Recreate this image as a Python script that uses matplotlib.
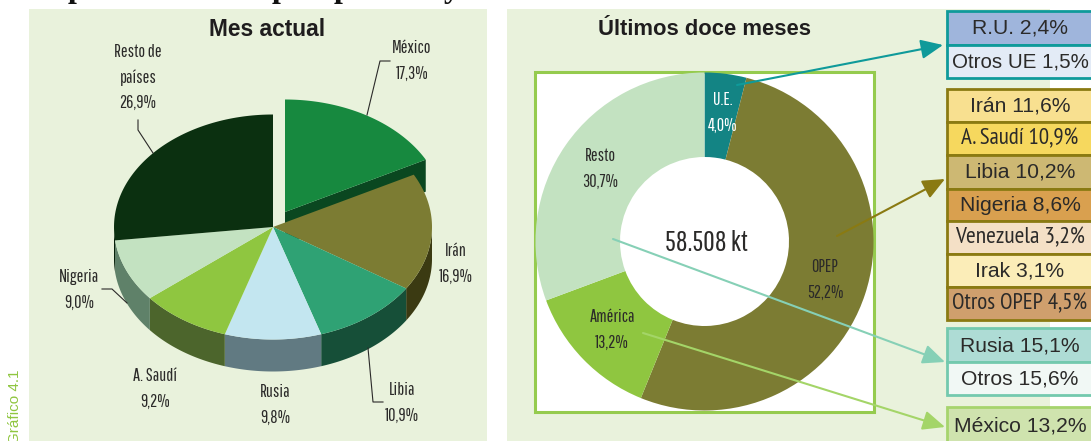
import numpy as np
import matplotlib
matplotlib.use("Agg")
import matplotlib.pyplot as plt
from matplotlib.patches import Polygon, Rectangle
import logging
logging.getLogger("matplotlib.font_manager").setLevel(logging.ERROR)

W, H = 1091, 441

# ---- data ----
pie_names = ["México", "Irán", "Libia", "Rusia", "A. Saudí", "Nigeria", "Resto de\npaíses"]
pie_values = [17.3, 16.9, 10.9, 9.8, 9.2, 9.0, 26.9]
ring_names = ["U.E.", "OPEP", "América", "Resto"]
ring_values = [4.0, 52.2, 13.2, 30.7]
ring_total = "58.508 kt"
ue_names = ["R.U.", "Otros UE"]
ue_values = [2.4, 1.5]
opep_names = ["Irán", "A. Saudí", "Libia", "Nigeria", "Venezuela", "Irak", "Otros OPEP"]
opep_values = [11.6, 10.9, 10.2, 8.6, 3.2, 3.1, 4.5]
rest_names = ["Rusia", "Otros"]
rest_values = [15.1, 15.6]
america_names = ["México"]
america_values = [13.2]

# ---- styles ----
PANEL = "#e9f2dc"
INK = "#2b2a29"
NARROW = ["Pathway Gothic One", "Liberation Sans", "DejaVu Sans"]
SANS = ["Liberation Sans", "DejaVu Sans"]
BOX = ["Liberation Sans", "DejaVu Sans"]
BOXN = ["PT Sans Narrow", "Liberation Sans", "DejaVu Sans"]
pie_tops = ["#17893f", "#7c7c33", "#2fa274", "#c3e6f0", "#8fc640", "#c3e2c1", "#0b3010"]
pie_sides = ["#0a4720", "#3b3a12", "#164f38", "#617a82", "#4c652c", "#5f8169", "#06200a"]
ring_colors = ["#138484", "#7c7c33", "#8fc640", "#c3e2c1"]
ring_text = ["white", INK, INK, INK]


def pct(v):
    return f"{v:.1f}".replace(".", ",") + "%"


fig = plt.figure(figsize=(W / 100, H / 100), dpi=100, facecolor="white")
ax = fig.add_axes([0, 0, 1, 1], zorder=0)
ax.set_xlim(0, W)
ax.set_ylim(H, 0)
ax.axis("off")

# panels
ax.add_patch(Rectangle((29, 9), 458, 432, fc=PANEL, ec="none"))
ax.add_patch(Rectangle((507, 9), 543, 432, fc=PANEL, ec="none"))
ax.add_patch(Rectangle((535, 72), 339, 340, fc="white", ec="#95cb4e", lw=2.2))

# fragment of the cropped heading above the panels
for x, s in zip([77, 280, 343, 452], ["p", "p", "p", "y"]):
    ax.text(x, -3, s, family=["Liberation Serif", "DejaVu Serif"], weight="bold",
            fontsize=23, color="#111111", ha="center", va="baseline", clip_on=False)

ax.text(267.5, 29.5, "Mes actual", family=SANS, weight="bold", fontsize=16.4, color="#1f1d1e",
        ha="center", va="center")
ax.text(705, 29.5, "Últimos doce meses", family=SANS, weight="bold", fontsize=15.8, color="#1f1d1e",
        ha="center", va="center")
ax.text(15, 444, "Gráfico 4.1", family=SANS, fontsize=11, color="#8fc640", rotation=90,
        ha="center", va="bottom")

# ---- 3D pie ----
cx, cy, rx, ry, depth = 273, 227, 159, 112.5, 32
shift = [(12, -15), (0, 0), (0, 0), (0, 0), (0, 0), (0, 0), (0, 0)]
fractions = np.array(pie_values) / sum(pie_values) * 360
ends = 90 - np.cumsum(fractions)
starts = ends + fractions


def rim(t0, t1, dx=0, dy=0, n=80):
    t = np.radians(np.linspace(t0, t1, n))
    return np.column_stack([cx + dx + rx * np.cos(t), cy + dy - ry * np.sin(t)])


for i, (a, b) in enumerate(zip(starts, ends)):
    dx, dy = shift[i]
    if i == 0:  # radial cut wall of the pulled-out slice
        p = rim(b, b, dx, dy, 1)[0]
        cut = [(cx + dx, cy + dy), tuple(p), (p[0], p[1] + depth), (cx + dx, cy + dy + depth)]
        ax.add_patch(Polygon(cut, fc=pie_sides[i], ec="none", zorder=2))
    lo, hi = max(b, -180), min(a, 0)
    if lo < hi:
        top = rim(hi, lo, dx, dy)
        low = top[::-1] + [0, depth]
        ax.add_patch(Polygon(np.vstack([top, low]), fc=pie_sides[i], ec="none", zorder=2))
for i, (a, b) in enumerate(zip(starts, ends)):
    dx, dy = shift[i]
    pts = np.vstack([[(cx + dx, cy + dy)], rim(a, b, dx, dy)])
    ax.add_patch(Polygon(pts, fc=pie_tops[i], ec="none", zorder=3))

pie_label_xy = [(412, 48), (456, 251), (402, 390), (275, 392), (155, 376), (79, 277), (138, 52)]
for name, v, (x, y) in zip(pie_names, pie_values, pie_label_xy):
    lines = name.split("\n") + [pct(v)]
    for k, s in enumerate(lines):
        ax.text(x, y + 25.5 * k, s, family=NARROW, fontsize=13, color=INK, ha="center", va="center", zorder=6)

leaders = [
    ([367, 380, 390], [115, 61, 61]),
    ([153, 138, 138], [153, 130, 120]),
    ([127, 112, 102], [303, 289, 289]),
    ([368, 373, 383], [348, 402, 402]),
]
for xs, ys in leaders:
    ax.plot(xs, ys, color="#2b2a29", lw=0.8, zorder=5)

# ---- ring ----
ring_cx, ring_cy, ring_r = 704.5, 241.5, 169
ax_ring = fig.add_axes([(ring_cx - ring_r) / W, 1 - (ring_cy + ring_r) / H, 2 * ring_r / W, 2 * ring_r / H], zorder=1)
ax_ring.pie(ring_values, colors=ring_colors, startangle=90, counterclock=False, radius=1,
            wedgeprops=dict(width=1 - 84.5 / 169, edgecolor="none"))
ax_ring.set_xlim(-1, 1)
ax_ring.set_ylim(-1, 1)
ax_ring.patch.set_alpha(0)

# ---- overlay ----
top = fig.add_axes([0, 0, 1, 1], zorder=2)
top.set_xlim(0, W)
top.set_ylim(H, 0)
top.axis("off")

ring_label_xy = [(723, 100), (825, 267), (612, 317), (600, 156)]
for name, v, (x, y), c in zip(ring_names, ring_values, ring_label_xy, ring_text):
    top.text(x, y, name, family=NARROW, fontsize=13, color=c, ha="center", va="center")
    top.text(x, y + 25.5, pct(v), family=NARROW, fontsize=13, color=c, ha="center", va="center")
top.text(706, 243, ring_total, family=NARROW, fontsize=20.5, color=INK, ha="center", va="center")

arrows = [
    ((737, 85), (943, 45), "#0f9a9a"),
    ((837, 236), (945, 179), "#8a7a12"),
    ((613, 239), (945, 362), "#86d0b6"),
    ((643, 333), (945, 427), "#a4d568"),
]
for p0, p1, c in arrows:
    top.annotate("", xy=p1, xytext=p0,
                 arrowprops=dict(arrowstyle="-|>,head_length=0.75,head_width=0.33", color=c, lw=1.5,
                                 mutation_scale=18, shrinkA=0, shrinkB=0))

box_x, box_w = 946.5, 150
groups = [
    (ue_names, ue_values, [10.5, 45, 78], ["#9fb5dc", "#e3ebf6"], "#0f9a9a", [BOX, BOX], [15.2, 14.8]),
    (opep_names, opep_values, [89, 122, 155, 188.5, 221, 254, 287, 320],
     ["#f8e090", "#f6d85e", "#cdb873", "#d9a04f", "#f4e0c6", "#fbedb8", "#cf9f6d"], "#8a7a12",
     [BOX, BOXN, BOX, BOX, BOXN, BOX, BOXN], [15.2, 16.5, 15.2, 15.2, 17, 15.2, 16.5]),
    (rest_names, rest_values, [328, 362, 395], ["#aedcd5", "#f1f8f5"], "#73c9ae", [BOX, BOX], [15.2, 15.2]),
    (america_names, america_values, [407, 445], ["#cfe3ae"], "#a6d46e", [BOX], [15.2]),
]
for names, vals, ys, fills, edge, fams, sizes in groups:
    for i, (n, v) in enumerate(zip(names, vals)):
        y0, y1 = ys[i], ys[i + 1]
        top.add_patch(Rectangle((box_x, y0), box_w, y1 - y0, fc=fills[i], ec=edge, lw=2))
    for i, (n, v) in enumerate(zip(names, vals)):
        y0, y1 = ys[i], ys[i + 1]
        top.text(1020, (y0 + y1) / 2 + 0.5 if y1 < 441 else 426, f"{n} {pct(v)}", family=fams[i],
                 fontsize=sizes[i], color=INK, ha="center", va="center")

fig.savefig("out.png", dpi=100)
